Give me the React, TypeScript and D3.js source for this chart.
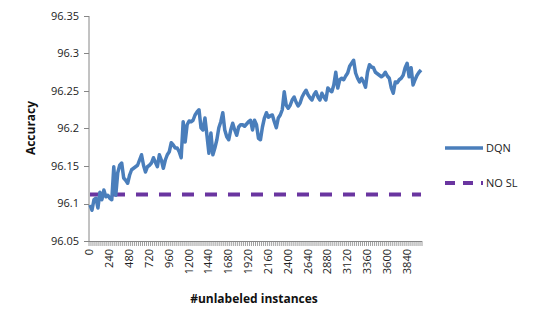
import React from 'react';
import * as d3 from 'd3';

// DQN accuracy, one value every 24 unlabeled instances
const dqnValues = [
  96.098, 96.091, 96.105, 96.107, 96.094, 96.115, 96.105, 96.118, 96.109, 96.111,
  96.107, 96.105, 96.149, 96.111, 96.141, 96.151, 96.154, 96.134, 96.131, 96.127,
  96.138, 96.145, 96.147, 96.149, 96.151, 96.158, 96.165, 96.151, 96.142, 96.149,
  96.151, 96.154, 96.161, 96.155, 96.149, 96.165, 96.158, 96.147, 96.158, 96.165,
  96.169, 96.181, 96.178, 96.174, 96.174, 96.169, 96.161, 96.209, 96.182, 96.205,
  96.21, 96.209, 96.211, 96.218, 96.222, 96.225, 96.201, 96.198, 96.214, 96.191,
  96.167, 96.194, 96.165, 96.174, 96.185, 96.201, 96.209, 96.221, 96.198, 96.189,
  96.185, 96.198, 96.207, 96.198, 96.191, 96.202, 96.205, 96.205, 96.203, 96.206,
  96.209, 96.211, 96.198, 96.211, 96.205, 96.187, 96.185, 96.202, 96.214, 96.221,
  96.215, 96.217, 96.218, 96.209, 96.201, 96.214, 96.218, 96.225, 96.249, 96.231,
  96.227, 96.231, 96.238, 96.242, 96.235, 96.23, 96.234, 96.242, 96.247, 96.251,
  96.245, 96.241, 96.238, 96.245, 96.249, 96.242, 96.238, 96.247, 96.242, 96.238,
  96.254, 96.251, 96.249, 96.258, 96.275, 96.254, 96.265, 96.267, 96.265, 96.27,
  96.274, 96.283, 96.287, 96.291, 96.274, 96.267, 96.262, 96.267, 96.262, 96.255,
  96.275, 96.285, 96.282, 96.281, 96.275, 96.273, 96.271, 96.269, 96.271, 96.275,
  96.27, 96.267, 96.254, 96.247, 96.262, 96.261, 96.265, 96.267, 96.271, 96.281,
  96.287, 96.269, 96.281, 96.258, 96.265, 96.271, 96.275, 96.278,
];
const nosl = 96.112;
const categories = dqnValues.map((_, i) => i * 24);
const xTickLabels = ['0', '240', '480', '720', '960', '1200', '1440', '1680', '1920', '2160',
  '2400', '2640', '2880', '3120', '3360', '3600', '3840'];
const yTicks = [96.05, 96.1, 96.15, 96.2, 96.25, 96.3, 96.35];

const W = 538, H = 323;
const left = 89, right = 422, top = 16, bottom = 241;
const axisColor = '#868686';
const font = 'Open Sans, sans-serif';

export default function App() {
  const x = d3.scaleBand<number>().domain(categories).range([left, right]);
  const y = d3.scaleLinear().domain([96.05, 96.35]).range([bottom, top]);
  const cx = (c: number) => (x(c) ?? 0) + x.bandwidth() / 2;

  const line = d3.line<number>()
    .x((_, i) => cx(categories[i]))
    .y(d => y(d));

  const noslPath = d3.line<number>()
    .x((_, i) => cx(categories[i]))
    .y(() => y(nosl))(categories as any);

  return (
    <svg width={W} height={H} style={{ position: 'absolute', left: 0, top: 0, background: '#fff' }}>
      {/* axes */}
      <line x1={left} x2={left} y1={top} y2={bottom} stroke={axisColor} />
      <line x1={left} x2={right} y1={bottom + 0.5} y2={bottom + 0.5} stroke={axisColor} />
      {yTicks.map(t => (
        <g key={t}>
          <line x1={left - 5} x2={left} y1={Math.round(y(t)) + 0.5} y2={Math.round(y(t)) + 0.5} stroke={axisColor} />
          <text x={left - 10} y={y(t)} dy="0.35em" textAnchor="end" fontFamily={font} fontSize={11} fill="#222">
            {String(t)}
          </text>
        </g>
      ))}
      {categories.concat([categories.length * 24]).map((c, i) => {
        const px = left + i * x.bandwidth();
        return <line key={'t' + i} x1={px} x2={px} y1={bottom} y2={bottom + 5} stroke={axisColor} strokeWidth={0.8} />;
      })}
      {xTickLabels.map(l => (
        <text key={l} transform={`translate(${cx(+l) + 3.5},249) rotate(-90)`} textAnchor="end"
          fontFamily={font} fontSize={11} fill="#222">{l}</text>
      ))}

      {/* series */}
      <path d={noslPath ?? ''} fill="none" stroke="#6a35a0" strokeWidth={4} strokeDasharray="12,11" />
      <path d={line(dqnValues) ?? ''} fill="none" stroke="#4a7ebb" strokeWidth={3.5} strokeLinejoin="round" />

      {/* titles */}
      <text x={254} y={303} textAnchor="middle" fontFamily={font} fontSize={12} fontWeight="bold" fill="#111">
        #unlabeled instances
      </text>
      <text transform="translate(35,128) rotate(-90)" textAnchor="middle" fontFamily={font} fontSize={12}
        fontWeight="bold" fill="#111">Accuracy</text>

      {/* legend */}
      <line x1={445} x2={483} y1={148} y2={148} stroke="#4a7ebb" strokeWidth={3.5} />
      <text x={486} y={148} dy="0.35em" fontFamily={font} fontSize={11} fill="#222">DQN</text>
      <line x1={445} x2={483} y1={183} y2={183} stroke="#6a35a0" strokeWidth={4} strokeDasharray="10,8" />
      <text x={486} y={183} dy="0.35em" fontFamily={font} fontSize={11} fill="#222">NO SL</text>
    </svg>
  );
}
